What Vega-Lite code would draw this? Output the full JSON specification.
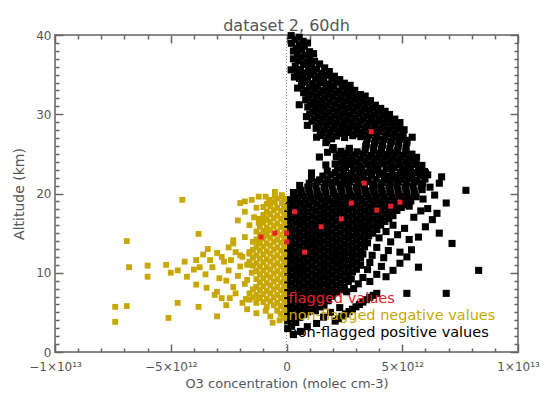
{
"$schema":"https://vega.github.io/schema/vega-lite/v6.json",
"width":463,"height":317,
"autosize":{"type":"none"},
"padding":{"left":55,"top":35,"right":27,"bottom":42},
"background":"white",
"title":{"text":"dataset 2, 60dh","font":"DejaVu Sans","fontSize":16,"fontWeight":"normal","color":"#555","offset":-5,"anchor":"middle"},
"config":{"view":{"stroke":"#888","strokeWidth":2},
"axis":{"domain":false,"grid":false,"labelFont":"DejaVu Sans","labelFontSize":12,"labelColor":"#555","titleFont":"DejaVu Sans","titleFontSize":13,"titleFontWeight":"normal","titleColor":"#555","tickColor":"#666","tickWidth":1.5,"labelOverlap":false,"labelFlush":false}},
"data":{"values":[{}]},
"datasets":{
"pos":[
{"o3":0.2e12,"alt":39.92},{"o3":0.55e12,"alt":39.72},{"o3":0.37e12,"alt":39.4},{"o3":0.72e12,"alt":39.21},{"o3":0.21e12,"alt":38.95},{"o3":0.56e12,"alt":38.76},{"o3":0.91e12,"alt":39.0},{"o3":0.42e12,"alt":38.36},{"o3":0.77e12,"alt":38.54},{"o3":0.3e12,"alt":37.97},{"o3":0.65e12,"alt":38.15},{"o3":1.0e12,"alt":37.89},{"o3":0.47e12,"alt":37.57},{"o3":0.82e12,"alt":37.49},{"o3":1.17e12,"alt":37.65},{"o3":0.3e12,"alt":36.99},{"o3":0.65e12,"alt":37.22},{"o3":1.0e12,"alt":37.04},{"o3":0.51e12,"alt":36.74},{"o3":0.86e12,"alt":36.57},{"o3":1.21e12,"alt":36.7},{"o3":0.38e12,"alt":36.06},{"o3":0.73e12,"alt":36.29},{"o3":1.08e12,"alt":36.17},{"o3":1.43e12,"alt":36.35},{"o3":0.6e12,"alt":35.64},{"o3":0.95e12,"alt":35.77},{"o3":1.3e12,"alt":35.69},{"o3":1.65e12,"alt":35.85},{"o3":0.47e12,"alt":35.42},{"o3":0.82e12,"alt":35.22},{"o3":1.17e12,"alt":35.35},{"o3":1.52e12,"alt":35.16},{"o3":1.85e12,"alt":35.39},{"o3":0.69e12,"alt":34.82},{"o3":1.04e12,"alt":34.97},{"o3":1.39e12,"alt":34.74},{"o3":1.74e12,"alt":34.92},{"o3":2.07e12,"alt":34.8},{"o3":0.56e12,"alt":34.52},{"o3":0.91e12,"alt":34.32},{"o3":1.26e12,"alt":34.45},{"o3":1.61e12,"alt":34.26},{"o3":1.96e12,"alt":34.49},{"o3":2.3e12,"alt":34.37},{"o3":0.77e12,"alt":34.05},{"o3":1.12e12,"alt":33.86},{"o3":1.47e12,"alt":34.0},{"o3":1.82e12,"alt":33.81},{"o3":2.17e12,"alt":34.04},{"o3":2.5e12,"alt":33.92},{"o3":0.65e12,"alt":33.62},{"o3":1.0e12,"alt":33.42},{"o3":1.35e12,"alt":33.55},{"o3":1.7e12,"alt":33.36},{"o3":2.05e12,"alt":33.59},{"o3":2.4e12,"alt":33.47},{"o3":2.75e12,"alt":33.65},{"o3":0.87e12,"alt":33.0},{"o3":1.22e12,"alt":33.17},{"o3":1.57e12,"alt":32.97},{"o3":1.92e12,"alt":33.1},{"o3":2.27e12,"alt":32.91},{"o3":2.62e12,"alt":33.14},{"o3":2.95e12,"alt":33.02},{"o3":0.74e12,"alt":32.72},{"o3":1.09e12,"alt":32.52},{"o3":1.44e12,"alt":32.65},{"o3":1.79e12,"alt":32.46},{"o3":2.14e12,"alt":32.69},{"o3":2.49e12,"alt":32.57},{"o3":2.84e12,"alt":32.75},{"o3":3.19e12,"alt":32.49},{"o3":0.95e12,"alt":32.1},{"o3":1.3e12,"alt":32.27},{"o3":1.65e12,"alt":32.07},{"o3":2.0e12,"alt":32.2},{"o3":2.35e12,"alt":32.01},{"o3":2.7e12,"alt":32.24},{"o3":3.05e12,"alt":32.12},{"o3":3.4e12,"alt":32.3},{"o3":0.83e12,"alt":31.82},{"o3":1.18e12,"alt":31.62},{"o3":1.53e12,"alt":31.75},{"o3":1.88e12,"alt":31.56},{"o3":2.23e12,"alt":31.79},{"o3":2.58e12,"alt":31.67},{"o3":2.93e12,"alt":31.85},{"o3":3.28e12,"alt":31.59},{"o3":3.63e12,"alt":31.72},{"o3":1.04e12,"alt":31.2},{"o3":1.39e12,"alt":31.37},{"o3":1.74e12,"alt":31.17},{"o3":2.09e12,"alt":31.3},{"o3":2.44e12,"alt":31.11},{"o3":2.79e12,"alt":31.34},{"o3":3.14e12,"alt":31.22},{"o3":3.49e12,"alt":31.4},{"o3":3.84e12,"alt":31.14},{"o3":0.92e12,"alt":30.92},{"o3":1.27e12,"alt":30.72},{"o3":1.62e12,"alt":30.85},{"o3":1.97e12,"alt":30.66},{"o3":2.32e12,"alt":30.89},{"o3":2.67e12,"alt":30.77},{"o3":3.02e12,"alt":30.95},{"o3":3.37e12,"alt":30.69},{"o3":3.72e12,"alt":30.82},{"o3":4.07e12,"alt":30.74},{"o3":1.13e12,"alt":30.3},{"o3":1.48e12,"alt":30.47},{"o3":1.83e12,"alt":30.27},{"o3":2.18e12,"alt":30.4},{"o3":2.53e12,"alt":30.21},{"o3":2.88e12,"alt":30.44},{"o3":3.23e12,"alt":30.32},{"o3":3.58e12,"alt":30.5},{"o3":3.93e12,"alt":30.24},{"o3":4.26e12,"alt":30.37},{"o3":1.0e12,"alt":30.02},{"o3":1.35e12,"alt":29.82},{"o3":1.7e12,"alt":29.95},{"o3":2.05e12,"alt":29.76},{"o3":2.4e12,"alt":29.99},{"o3":2.75e12,"alt":29.87},{"o3":3.1e12,"alt":30.05},{"o3":3.45e12,"alt":29.79},{"o3":3.8e12,"alt":29.92},{"o3":4.15e12,"alt":29.84},{"o3":4.45e12,"alt":29.97},{"o3":1.22e12,"alt":29.4},{"o3":1.57e12,"alt":29.57},{"o3":1.92e12,"alt":29.37},{"o3":2.27e12,"alt":29.5},{"o3":2.62e12,"alt":29.31},{"o3":2.97e12,"alt":29.54},{"o3":3.32e12,"alt":29.42},{"o3":3.67e12,"alt":29.6},{"o3":4.02e12,"alt":29.34},{"o3":4.37e12,"alt":29.47},{"o3":4.68e12,"alt":29.39},{"o3":1.1e12,"alt":29.12},{"o3":1.45e12,"alt":28.92},{"o3":1.8e12,"alt":29.05},{"o3":2.15e12,"alt":28.86},{"o3":2.5e12,"alt":29.09},{"o3":2.85e12,"alt":28.97},{"o3":3.2e12,"alt":29.15},{"o3":3.55e12,"alt":28.89},{"o3":3.9e12,"alt":29.02},{"o3":4.25e12,"alt":28.94},{"o3":4.6e12,"alt":29.07},{"o3":4.9e12,"alt":28.95},{"o3":1.37e12,"alt":28.5},{"o3":1.72e12,"alt":28.67},{"o3":2.07e12,"alt":28.47},{"o3":2.42e12,"alt":28.6},{"o3":2.77e12,"alt":28.41},{"o3":3.12e12,"alt":28.64},{"o3":3.47e12,"alt":28.52},{"o3":3.82e12,"alt":28.7},{"o3":4.17e12,"alt":28.44},{"o3":4.52e12,"alt":28.57},{"o3":4.87e12,"alt":28.49},{"o3":1.28e12,"alt":28.22},{"o3":1.63e12,"alt":28.02},{"o3":1.98e12,"alt":28.15},{"o3":2.33e12,"alt":27.96},{"o3":2.68e12,"alt":28.19},{"o3":3.03e12,"alt":28.07},{"o3":3.38e12,"alt":28.25},{"o3":3.73e12,"alt":27.99},{"o3":4.08e12,"alt":28.12},{"o3":4.43e12,"alt":28.04},{"o3":4.78e12,"alt":28.17},{"o3":5.08e12,"alt":28.05},{"o3":1.54e12,"alt":27.6},{"o3":1.89e12,"alt":27.77},{"o3":2.24e12,"alt":27.57},{"o3":2.59e12,"alt":27.7},{"o3":2.94e12,"alt":27.51},{"o3":3.29e12,"alt":27.74},{"o3":3.64e12,"alt":27.62},{"o3":3.99e12,"alt":27.8},{"o3":4.34e12,"alt":27.54},{"o3":4.69e12,"alt":27.67},{"o3":5.04e12,"alt":27.59},{"o3":1.46e12,"alt":27.32},{"o3":1.81e12,"alt":27.12},{"o3":2.16e12,"alt":27.25},{"o3":2.51e12,"alt":27.06},{"o3":2.86e12,"alt":27.29},{"o3":3.21e12,"alt":27.17},{"o3":3.56e12,"alt":27.35},{"o3":3.91e12,"alt":27.09},{"o3":4.26e12,"alt":27.22},{"o3":4.61e12,"alt":27.14},{"o3":4.96e12,"alt":27.27},{"o3":1.74e12,"alt":26.7},{"o3":1.95e12,"alt":26.9},{"o3":3.49e12,"alt":26.87},{"o3":3.84e12,"alt":26.67},{"o3":4.19e12,"alt":26.8},{"o3":4.54e12,"alt":26.61},{"o3":4.89e12,"alt":26.84},{"o3":5.2e12,"alt":26.72},{"o3":1.7e12,"alt":26.42},{"o3":3.45e12,"alt":26.22},{"o3":3.8e12,"alt":26.35},{"o3":4.15e12,"alt":26.16},{"o3":4.5e12,"alt":26.39},{"o3":4.85e12,"alt":26.27},{"o3":5.2e12,"alt":26.45},{"o3":2.02e12,"alt":25.8},{"o3":2.72e12,"alt":25.7},{"o3":3.42e12,"alt":25.97},{"o3":3.77e12,"alt":25.77},{"o3":4.12e12,"alt":25.9},{"o3":4.47e12,"alt":25.71},{"o3":4.82e12,"alt":25.94},{"o3":5.17e12,"alt":25.82},{"o3":2.0e12,"alt":25.52},{"o3":2.35e12,"alt":25.32},{"o3":2.7e12,"alt":25.45},{"o3":3.05e12,"alt":25.26},{"o3":3.4e12,"alt":25.49},{"o3":3.75e12,"alt":25.37},{"o3":4.1e12,"alt":25.55},{"o3":4.45e12,"alt":25.29},{"o3":4.8e12,"alt":25.42},{"o3":5.15e12,"alt":25.34},{"o3":2.27e12,"alt":24.9},{"o3":2.62e12,"alt":25.07},{"o3":2.97e12,"alt":24.87},{"o3":3.32e12,"alt":25.0},{"o3":3.67e12,"alt":24.81},{"o3":4.02e12,"alt":25.04},{"o3":4.37e12,"alt":24.92},{"o3":4.72e12,"alt":25.1},{"o3":5.07e12,"alt":24.84},{"o3":5.42e12,"alt":24.97},{"o3":2.15e12,"alt":24.62},{"o3":2.5e12,"alt":24.42},{"o3":2.85e12,"alt":24.55},{"o3":3.2e12,"alt":24.36},{"o3":3.55e12,"alt":24.59},{"o3":3.9e12,"alt":24.47},{"o3":4.25e12,"alt":24.65},{"o3":4.6e12,"alt":24.39},{"o3":4.95e12,"alt":24.52},{"o3":5.3e12,"alt":24.44},{"o3":5.62e12,"alt":24.57},{"o3":2.37e12,"alt":24.0},{"o3":2.72e12,"alt":24.17},{"o3":3.07e12,"alt":23.97},{"o3":3.42e12,"alt":24.1},{"o3":3.77e12,"alt":23.91},{"o3":4.12e12,"alt":24.14},{"o3":4.47e12,"alt":24.02},{"o3":4.82e12,"alt":24.2},{"o3":5.17e12,"alt":23.94},{"o3":5.52e12,"alt":24.07},{"o3":2.1e12,"alt":23.72},{"o3":2.45e12,"alt":23.52},{"o3":2.8e12,"alt":23.65},{"o3":3.15e12,"alt":23.46},{"o3":3.5e12,"alt":23.69},{"o3":3.85e12,"alt":23.57},{"o3":4.2e12,"alt":23.75},{"o3":4.55e12,"alt":23.49},{"o3":4.9e12,"alt":23.62},{"o3":5.25e12,"alt":23.54},{"o3":5.6e12,"alt":23.67},{"o3":5.85e12,"alt":23.55},{"o3":2.2e12,"alt":23.1},{"o3":2.55e12,"alt":23.27},{"o3":2.9e12,"alt":23.07},{"o3":3.25e12,"alt":23.2},{"o3":3.6e12,"alt":23.01},{"o3":3.95e12,"alt":23.24},{"o3":4.3e12,"alt":23.12},{"o3":4.65e12,"alt":23.3},{"o3":5.0e12,"alt":23.04},{"o3":5.35e12,"alt":23.17},{"o3":5.7e12,"alt":23.09},{"o3":1.76e12,"alt":22.82},{"o3":2.11e12,"alt":22.62},{"o3":2.46e12,"alt":22.75},{"o3":2.81e12,"alt":22.56},{"o3":3.16e12,"alt":22.79},{"o3":3.51e12,"alt":22.67},{"o3":3.86e12,"alt":22.85},{"o3":4.21e12,"alt":22.59},{"o3":4.56e12,"alt":22.72},{"o3":4.91e12,"alt":22.64},{"o3":5.26e12,"alt":22.77},{"o3":5.61e12,"alt":22.65},{"o3":5.96e12,"alt":22.78},{"o3":1.57e12,"alt":22.2},{"o3":1.92e12,"alt":22.37},{"o3":2.27e12,"alt":22.17},{"o3":2.62e12,"alt":22.3},{"o3":2.97e12,"alt":22.11},{"o3":3.32e12,"alt":22.34},{"o3":3.67e12,"alt":22.22},{"o3":4.02e12,"alt":22.4},{"o3":4.37e12,"alt":22.14},{"o3":4.72e12,"alt":22.27},{"o3":5.07e12,"alt":22.19},{"o3":5.42e12,"alt":22.32},{"o3":5.77e12,"alt":22.24},{"o3":6.1e12,"alt":22.36},{"o3":1.08e12,"alt":21.92},{"o3":1.43e12,"alt":21.72},{"o3":1.78e12,"alt":21.85},{"o3":2.13e12,"alt":21.66},{"o3":2.48e12,"alt":21.89},{"o3":2.83e12,"alt":21.77},{"o3":3.18e12,"alt":21.95},{"o3":3.53e12,"alt":21.69},{"o3":3.88e12,"alt":21.82},{"o3":4.23e12,"alt":21.74},{"o3":4.58e12,"alt":21.87},{"o3":4.93e12,"alt":21.75},{"o3":5.28e12,"alt":21.88},{"o3":5.63e12,"alt":21.7},{"o3":5.98e12,"alt":21.83},{"o3":0.98e12,"alt":21.3},{"o3":1.33e12,"alt":21.47},{"o3":1.68e12,"alt":21.27},{"o3":2.03e12,"alt":21.4},{"o3":2.38e12,"alt":21.21},{"o3":2.73e12,"alt":21.44},{"o3":3.08e12,"alt":21.32},{"o3":3.43e12,"alt":21.5},{"o3":3.78e12,"alt":21.24},{"o3":4.13e12,"alt":21.37},{"o3":4.48e12,"alt":21.29},{"o3":4.83e12,"alt":21.42},{"o3":5.18e12,"alt":21.34},{"o3":5.53e12,"alt":21.46},{"o3":5.88e12,"alt":21.28},{"o3":0.57e12,"alt":21.02},{"o3":0.92e12,"alt":20.82},{"o3":1.27e12,"alt":20.95},{"o3":1.62e12,"alt":20.76},{"o3":1.97e12,"alt":20.99},{"o3":2.32e12,"alt":20.87},{"o3":2.67e12,"alt":21.05},{"o3":3.02e12,"alt":20.79},{"o3":3.37e12,"alt":20.92},{"o3":3.72e12,"alt":20.84},{"o3":4.07e12,"alt":20.97},{"o3":4.42e12,"alt":20.85},{"o3":4.77e12,"alt":20.98},{"o3":5.12e12,"alt":20.8},{"o3":5.47e12,"alt":20.93},{"o3":5.82e12,"alt":20.86},{"o3":0.61e12,"alt":20.4},{"o3":0.96e12,"alt":20.57},{"o3":1.31e12,"alt":20.37},{"o3":1.66e12,"alt":20.5},{"o3":2.01e12,"alt":20.31},{"o3":2.36e12,"alt":20.54},{"o3":2.71e12,"alt":20.42},{"o3":3.06e12,"alt":20.6},{"o3":3.41e12,"alt":20.34},{"o3":3.76e12,"alt":20.47},{"o3":4.11e12,"alt":20.39},{"o3":4.46e12,"alt":20.52},{"o3":4.81e12,"alt":20.44},{"o3":5.16e12,"alt":20.56},{"o3":5.51e12,"alt":20.38},{"o3":5.86e12,"alt":20.49},{"o3":0.3e12,"alt":20.12},{"o3":0.65e12,"alt":19.92},{"o3":1.0e12,"alt":20.05},{"o3":1.35e12,"alt":19.86},{"o3":1.7e12,"alt":20.09},{"o3":2.05e12,"alt":19.97},{"o3":2.4e12,"alt":20.15},{"o3":2.75e12,"alt":19.89},{"o3":3.1e12,"alt":20.02},{"o3":3.45e12,"alt":19.94},{"o3":3.8e12,"alt":20.07},{"o3":4.15e12,"alt":19.95},{"o3":4.5e12,"alt":20.08},{"o3":4.85e12,"alt":19.9},{"o3":5.2e12,"alt":20.03},{"o3":5.55e12,"alt":19.96},{"o3":0.37e12,"alt":19.5},{"o3":0.72e12,"alt":19.67},{"o3":1.07e12,"alt":19.47},{"o3":1.42e12,"alt":19.6},{"o3":1.77e12,"alt":19.41},{"o3":2.12e12,"alt":19.64},{"o3":2.47e12,"alt":19.52},{"o3":2.82e12,"alt":19.7},{"o3":3.17e12,"alt":19.44},{"o3":3.52e12,"alt":19.57},{"o3":3.87e12,"alt":19.49},{"o3":4.22e12,"alt":19.62},{"o3":4.57e12,"alt":19.54},{"o3":4.92e12,"alt":19.66},{"o3":5.27e12,"alt":19.48},{"o3":5.6e12,"alt":19.59},{"o3":0.12e12,"alt":19.22},{"o3":0.47e12,"alt":19.02},{"o3":0.82e12,"alt":19.15},{"o3":1.17e12,"alt":18.96},{"o3":1.52e12,"alt":19.19},{"o3":1.87e12,"alt":19.07},{"o3":2.22e12,"alt":19.25},{"o3":2.57e12,"alt":18.99},{"o3":2.92e12,"alt":19.12},{"o3":3.27e12,"alt":19.04},{"o3":3.62e12,"alt":19.17},{"o3":3.97e12,"alt":19.05},{"o3":4.32e12,"alt":19.18},{"o3":4.67e12,"alt":19.0},{"o3":5.02e12,"alt":19.13},{"o3":5.37e12,"alt":19.06},{"o3":0.25e12,"alt":18.6},{"o3":0.6e12,"alt":18.77},{"o3":0.95e12,"alt":18.57},{"o3":1.3e12,"alt":18.7},{"o3":1.65e12,"alt":18.51},{"o3":2.0e12,"alt":18.74},{"o3":2.35e12,"alt":18.62},{"o3":2.7e12,"alt":18.8},{"o3":3.05e12,"alt":18.54},{"o3":3.4e12,"alt":18.67},{"o3":3.75e12,"alt":18.59},{"o3":4.1e12,"alt":18.72},{"o3":4.45e12,"alt":18.64},{"o3":4.8e12,"alt":18.76},{"o3":5.15e12,"alt":18.58},{"o3":0.06e12,"alt":18.32},{"o3":0.41e12,"alt":18.12},{"o3":0.76e12,"alt":18.25},{"o3":1.11e12,"alt":18.06},{"o3":1.46e12,"alt":18.29},{"o3":1.81e12,"alt":18.17},{"o3":2.16e12,"alt":18.35},{"o3":2.51e12,"alt":18.09},{"o3":2.86e12,"alt":18.22},{"o3":3.21e12,"alt":18.14},{"o3":3.56e12,"alt":18.27},{"o3":3.91e12,"alt":18.15},{"o3":4.26e12,"alt":18.28},{"o3":4.61e12,"alt":18.1},{"o3":4.96e12,"alt":18.23},{"o3":0.22e12,"alt":17.7},{"o3":0.57e12,"alt":17.87},{"o3":0.92e12,"alt":17.67},{"o3":1.27e12,"alt":17.8},{"o3":1.62e12,"alt":17.61},{"o3":1.97e12,"alt":17.84},{"o3":2.32e12,"alt":17.72},{"o3":2.67e12,"alt":17.9},{"o3":3.02e12,"alt":17.64},{"o3":3.37e12,"alt":17.77},{"o3":3.72e12,"alt":17.69},{"o3":4.07e12,"alt":17.82},{"o3":4.42e12,"alt":17.74},{"o3":4.77e12,"alt":17.86},{"o3":0.05e12,"alt":17.42},{"o3":0.4e12,"alt":17.22},{"o3":0.75e12,"alt":17.35},{"o3":1.1e12,"alt":17.16},{"o3":1.45e12,"alt":17.39},{"o3":1.8e12,"alt":17.27},{"o3":2.15e12,"alt":17.45},{"o3":2.5e12,"alt":17.19},{"o3":2.85e12,"alt":17.32},{"o3":3.2e12,"alt":17.24},{"o3":3.55e12,"alt":17.37},{"o3":3.9e12,"alt":17.25},{"o3":4.25e12,"alt":17.38},{"o3":4.6e12,"alt":17.2},{"o3":0.22e12,"alt":16.8},{"o3":0.57e12,"alt":16.97},{"o3":0.92e12,"alt":16.77},{"o3":1.27e12,"alt":16.9},{"o3":1.62e12,"alt":16.71},{"o3":1.97e12,"alt":16.94},{"o3":2.32e12,"alt":16.82},{"o3":2.67e12,"alt":17.0},{"o3":3.02e12,"alt":16.74},{"o3":3.37e12,"alt":16.87},{"o3":3.72e12,"alt":16.79},{"o3":4.07e12,"alt":16.92},{"o3":4.42e12,"alt":16.84},{"o3":0.05e12,"alt":16.52},{"o3":0.4e12,"alt":16.32},{"o3":0.75e12,"alt":16.45},{"o3":1.1e12,"alt":16.26},{"o3":1.45e12,"alt":16.49},{"o3":1.8e12,"alt":16.37},{"o3":2.15e12,"alt":16.55},{"o3":2.5e12,"alt":16.29},{"o3":2.85e12,"alt":16.42},{"o3":3.2e12,"alt":16.34},{"o3":3.55e12,"alt":16.47},{"o3":3.9e12,"alt":16.35},{"o3":4.25e12,"alt":16.48},{"o3":0.22e12,"alt":15.9},{"o3":0.57e12,"alt":16.07},{"o3":0.92e12,"alt":15.87},{"o3":1.27e12,"alt":16.0},{"o3":1.62e12,"alt":15.81},{"o3":1.97e12,"alt":16.04},{"o3":2.32e12,"alt":15.92},{"o3":2.67e12,"alt":16.1},{"o3":3.02e12,"alt":15.84},{"o3":3.37e12,"alt":15.97},{"o3":3.72e12,"alt":15.89},{"o3":4.07e12,"alt":16.02},{"o3":0.05e12,"alt":15.62},{"o3":0.4e12,"alt":15.42},{"o3":0.75e12,"alt":15.55},{"o3":1.1e12,"alt":15.36},{"o3":1.45e12,"alt":15.59},{"o3":1.8e12,"alt":15.47},{"o3":2.15e12,"alt":15.65},{"o3":2.5e12,"alt":15.39},{"o3":2.85e12,"alt":15.52},{"o3":3.2e12,"alt":15.44},{"o3":3.55e12,"alt":15.57},{"o3":3.9e12,"alt":15.45},{"o3":0.22e12,"alt":15.0},{"o3":0.57e12,"alt":15.17},{"o3":0.92e12,"alt":14.97},{"o3":1.27e12,"alt":15.1},{"o3":1.62e12,"alt":14.91},{"o3":1.97e12,"alt":15.14},{"o3":2.32e12,"alt":15.02},{"o3":2.67e12,"alt":15.2},{"o3":3.02e12,"alt":14.94},{"o3":3.37e12,"alt":15.07},{"o3":3.72e12,"alt":14.99},{"o3":0.05e12,"alt":14.72},{"o3":0.4e12,"alt":14.52},{"o3":0.75e12,"alt":14.65},{"o3":1.1e12,"alt":14.46},{"o3":1.45e12,"alt":14.69},{"o3":1.8e12,"alt":14.57},{"o3":2.15e12,"alt":14.75},{"o3":2.5e12,"alt":14.49},{"o3":2.85e12,"alt":14.62},{"o3":3.2e12,"alt":14.54},{"o3":3.55e12,"alt":14.67},{"o3":0.22e12,"alt":14.1},{"o3":0.57e12,"alt":14.27},{"o3":0.92e12,"alt":14.07},{"o3":1.27e12,"alt":14.2},{"o3":1.62e12,"alt":14.01},{"o3":1.97e12,"alt":14.24},{"o3":2.32e12,"alt":14.12},{"o3":2.67e12,"alt":14.3},{"o3":3.02e12,"alt":14.04},{"o3":3.37e12,"alt":14.17},{"o3":0.05e12,"alt":13.82},{"o3":0.4e12,"alt":13.62},{"o3":0.75e12,"alt":13.75},{"o3":1.1e12,"alt":13.56},{"o3":1.45e12,"alt":13.79},{"o3":1.8e12,"alt":13.67},{"o3":2.15e12,"alt":13.85},{"o3":2.5e12,"alt":13.59},{"o3":2.85e12,"alt":13.72},{"o3":3.2e12,"alt":13.64},{"o3":3.5e12,"alt":13.77},{"o3":0.22e12,"alt":13.2},{"o3":0.57e12,"alt":13.37},{"o3":0.92e12,"alt":13.17},{"o3":1.27e12,"alt":13.3},{"o3":1.62e12,"alt":13.11},{"o3":1.97e12,"alt":13.34},{"o3":2.32e12,"alt":13.22},{"o3":2.67e12,"alt":13.4},{"o3":3.02e12,"alt":13.14},{"o3":3.37e12,"alt":13.27},{"o3":0.05e12,"alt":12.92},{"o3":0.4e12,"alt":12.72},{"o3":0.75e12,"alt":12.85},{"o3":1.1e12,"alt":12.66},{"o3":1.45e12,"alt":12.89},{"o3":1.8e12,"alt":12.77},{"o3":2.15e12,"alt":12.95},{"o3":2.5e12,"alt":12.69},{"o3":2.85e12,"alt":12.82},{"o3":3.2e12,"alt":12.74},{"o3":0.22e12,"alt":12.3},{"o3":0.57e12,"alt":12.47},{"o3":0.92e12,"alt":12.27},{"o3":1.27e12,"alt":12.4},{"o3":1.62e12,"alt":12.21},{"o3":1.97e12,"alt":12.44},{"o3":2.32e12,"alt":12.32},{"o3":2.67e12,"alt":12.5},{"o3":3.02e12,"alt":12.24},{"o3":3.3e12,"alt":12.37},{"o3":0.05e12,"alt":12.02},{"o3":0.4e12,"alt":11.82},{"o3":0.75e12,"alt":11.95},{"o3":1.1e12,"alt":11.76},{"o3":1.45e12,"alt":11.99},{"o3":1.8e12,"alt":11.87},{"o3":2.15e12,"alt":12.05},{"o3":2.5e12,"alt":11.79},{"o3":2.85e12,"alt":11.92},{"o3":3.2e12,"alt":11.84},{"o3":0.22e12,"alt":11.4},{"o3":0.57e12,"alt":11.57},{"o3":0.92e12,"alt":11.37},{"o3":1.27e12,"alt":11.5},{"o3":1.62e12,"alt":11.31},{"o3":1.97e12,"alt":11.54},{"o3":2.32e12,"alt":11.42},{"o3":2.67e12,"alt":11.6},{"o3":3.02e12,"alt":11.34},{"o3":0.05e12,"alt":11.12},{"o3":0.4e12,"alt":10.92},{"o3":0.75e12,"alt":11.05},{"o3":1.1e12,"alt":10.86},{"o3":1.45e12,"alt":11.09},{"o3":1.8e12,"alt":10.97},{"o3":2.15e12,"alt":11.15},{"o3":2.5e12,"alt":10.89},{"o3":2.85e12,"alt":11.02},{"o3":3.2e12,"alt":10.94},{"o3":0.22e12,"alt":10.5},{"o3":0.57e12,"alt":10.67},{"o3":0.92e12,"alt":10.47},{"o3":1.27e12,"alt":10.6},{"o3":1.62e12,"alt":10.41},{"o3":1.97e12,"alt":10.64},{"o3":2.32e12,"alt":10.52},{"o3":2.67e12,"alt":10.7},{"o3":3.02e12,"alt":10.44},{"o3":0.05e12,"alt":10.22},{"o3":0.4e12,"alt":10.02},{"o3":0.75e12,"alt":10.15},{"o3":1.1e12,"alt":9.96},{"o3":1.45e12,"alt":10.19},{"o3":1.8e12,"alt":10.07},{"o3":2.15e12,"alt":10.25},{"o3":2.5e12,"alt":9.99},{"o3":2.85e12,"alt":10.12},{"o3":0.22e12,"alt":9.6},{"o3":0.57e12,"alt":9.77},{"o3":0.92e12,"alt":9.57},{"o3":1.27e12,"alt":9.7},{"o3":1.62e12,"alt":9.51},{"o3":1.97e12,"alt":9.74},{"o3":2.32e12,"alt":9.62},{"o3":2.67e12,"alt":9.8},{"o3":0.05e12,"alt":9.32},{"o3":0.4e12,"alt":9.12},{"o3":0.75e12,"alt":9.25},{"o3":1.1e12,"alt":9.06},{"o3":1.45e12,"alt":9.29},{"o3":1.8e12,"alt":9.17},{"o3":2.15e12,"alt":9.35},{"o3":2.5e12,"alt":9.09},{"o3":2.8e12,"alt":9.22},{"o3":0.22e12,"alt":8.7},{"o3":0.57e12,"alt":8.87},{"o3":0.92e12,"alt":8.67},{"o3":1.27e12,"alt":8.8},{"o3":1.62e12,"alt":8.61},{"o3":1.97e12,"alt":8.84},{"o3":2.32e12,"alt":8.72},{"o3":2.67e12,"alt":8.9},{"o3":0.05e12,"alt":8.42},{"o3":0.4e12,"alt":8.22},{"o3":0.75e12,"alt":8.35},{"o3":1.1e12,"alt":8.16},{"o3":1.45e12,"alt":8.39},{"o3":1.8e12,"alt":8.27},{"o3":2.15e12,"alt":8.45},{"o3":2.5e12,"alt":8.19},{"o3":0.22e12,"alt":7.8},{"o3":0.57e12,"alt":7.97},{"o3":0.92e12,"alt":7.77},{"o3":1.27e12,"alt":7.9},{"o3":1.62e12,"alt":7.71},{"o3":1.97e12,"alt":7.94},{"o3":2.32e12,"alt":7.82},{"o3":0.05e12,"alt":7.52},{"o3":0.4e12,"alt":7.32},{"o3":0.75e12,"alt":7.45},{"o3":1.1e12,"alt":7.26},{"o3":1.45e12,"alt":7.49},{"o3":1.8e12,"alt":7.37},{"o3":2.15e12,"alt":7.55},{"o3":0.22e12,"alt":6.9},{"o3":0.57e12,"alt":7.07},{"o3":0.92e12,"alt":6.87},{"o3":1.27e12,"alt":7.0},{"o3":1.62e12,"alt":6.81},{"o3":1.97e12,"alt":7.04},{"o3":0.05e12,"alt":6.62},{"o3":0.4e12,"alt":6.42},{"o3":0.75e12,"alt":6.55},{"o3":1.1e12,"alt":6.36},{"o3":1.45e12,"alt":6.59},{"o3":1.8e12,"alt":6.47},{"o3":0.22e12,"alt":6.0},{"o3":0.57e12,"alt":6.17},{"o3":0.92e12,"alt":5.97},{"o3":1.27e12,"alt":6.1},{"o3":1.62e12,"alt":5.91},{"o3":0.05e12,"alt":5.72},{"o3":0.4e12,"alt":5.52},{"o3":0.75e12,"alt":5.65},{"o3":1.1e12,"alt":5.46},{"o3":1.45e12,"alt":5.69},{"o3":0.22e12,"alt":5.1},{"o3":0.57e12,"alt":5.27},{"o3":0.92e12,"alt":5.07},{"o3":1.25e12,"alt":5.2},{"o3":0.05e12,"alt":4.82},{"o3":0.4e12,"alt":4.62},{"o3":0.75e12,"alt":4.75},{"o3":0.22e12,"alt":4.2},{"o3":0.57e12,"alt":4.37},{"o3":0.05e12,"alt":3.92},{"o3":0.4e12,"alt":3.72},{"o3":0.22e12,"alt":3.3},{"o3":0.05e12,"alt":2.95},
{"o3":0.34e12,"alt":34.7},{"o3":0.48e12,"alt":33.3},{"o3":0.86e12,"alt":29.7},{"o3":0.9e12,"alt":28.6},{"o3":1.3e12,"alt":27.1},{"o3":1.08e12,"alt":22.6},{"o3":1.7e12,"alt":23.6},{"o3":1.42e12,"alt":24.6},{"o3":1.77e12,"alt":25.2},{"o3":0.2e12,"alt":35.6},{"o3":0.55e12,"alt":31.2},{"o3":6.7e12,"alt":22.1},{"o3":5.43e12,"alt":27.1},{"o3":6.0e12,"alt":22.6},{"o3":5.8e12,"alt":23.3},{"o3":7.75e12,"alt":20.4},{"o3":6.9e12,"alt":18.8},{"o3":6.5e12,"alt":17.5},{"o3":7.15e12,"alt":13.7},{"o3":6.6e12,"alt":15.0},{"o3":6.0e12,"alt":15.8},{"o3":6.3e12,"alt":16.7},{"o3":5.7e12,"alt":14.5},{"o3":5.4e12,"alt":12.9},{"o3":5.2e12,"alt":12.0},{"o3":5.7e12,"alt":10.7},{"o3":4.9e12,"alt":11.2},{"o3":8.3e12,"alt":10.3},{"o3":4.6e12,"alt":10.3},{"o3":4.3e12,"alt":9.5},{"o3":4.0e12,"alt":16.2},{"o3":4.6e12,"alt":16.0},{"o3":5.1e12,"alt":15.6},{"o3":4.3e12,"alt":15.2},{"o3":4.8e12,"alt":14.8},{"o3":5.3e12,"alt":14.2},{"o3":4.0e12,"alt":14.4},{"o3":4.5e12,"alt":13.9},{"o3":3.9e12,"alt":13.2},{"o3":4.4e12,"alt":12.8},{"o3":4.9e12,"alt":12.6},{"o3":3.7e12,"alt":12.2},{"o3":4.2e12,"alt":11.9},{"o3":3.6e12,"alt":11.3},{"o3":4.1e12,"alt":10.8},{"o3":3.5e12,"alt":10.4},{"o3":3.9e12,"alt":9.8},{"o3":3.3e12,"alt":9.4},{"o3":3.6e12,"alt":8.9},{"o3":3.1e12,"alt":8.6},{"o3":5.5e12,"alt":17.0},{"o3":5.8e12,"alt":17.8},{"o3":5.3e12,"alt":18.4},{"o3":6.1e12,"alt":18.1},{"o3":5.9e12,"alt":19.3},{"o3":6.4e12,"alt":19.8},{"o3":6.2e12,"alt":20.8},{"o3":6.6e12,"alt":21.3},{"o3":3.9e12,"alt":7.4},{"o3":3.6e12,"alt":6.9},{"o3":3.3e12,"alt":6.3},{"o3":3.0e12,"alt":5.7},{"o3":2.7e12,"alt":5.1},{"o3":2.4e12,"alt":4.5},{"o3":2.1e12,"alt":3.9},{"o3":3.75e12,"alt":7.15},{"o3":3.45e12,"alt":6.6},{"o3":3.15e12,"alt":6.0},{"o3":2.85e12,"alt":5.4},{"o3":2.55e12,"alt":4.8},{"o3":2.25e12,"alt":4.2},{"o3":6.9e12,"alt":7.4},{"o3":5.2e12,"alt":7.4},{"o3":2.9e12,"alt":8.0},{"o3":2.6e12,"alt":7.6},{"o3":2.3e12,"alt":5.6},{"o3":1.9e12,"alt":5.0},{"o3":1.6e12,"alt":4.4},{"o3":1.3e12,"alt":3.6},{"o3":0.9e12,"alt":3.2},{"o3":0.6e12,"alt":2.6},{"o3":0.3e12,"alt":2.2}
],
"neg":[
{"o3":-0.2e12,"alt":19.8},{"o3":-0.5e12,"alt":19.7},{"o3":-0.1e12,"alt":19.3},{"o3":-0.4e12,"alt":19.4},{"o3":-0.75e12,"alt":19.2},{"o3":-0.2e12,"alt":18.8},{"o3":-0.5e12,"alt":18.9},{"o3":-0.85e12,"alt":18.7},{"o3":-0.1e12,"alt":18.3},{"o3":-0.4e12,"alt":18.2},{"o3":-0.7e12,"alt":18.4},{"o3":-1.0e12,"alt":18.3},{"o3":-0.25e12,"alt":17.8},{"o3":-0.55e12,"alt":17.9},{"o3":-0.85e12,"alt":17.7},{"o3":-0.1e12,"alt":17.3},{"o3":-0.4e12,"alt":17.2},{"o3":-0.7e12,"alt":17.4},{"o3":-1.0e12,"alt":17.3},{"o3":-0.25e12,"alt":16.8},{"o3":-0.55e12,"alt":16.9},{"o3":-0.85e12,"alt":16.7},{"o3":-1.15e12,"alt":16.8},{"o3":-0.1e12,"alt":16.3},{"o3":-0.4e12,"alt":16.2},{"o3":-0.7e12,"alt":16.4},{"o3":-1.0e12,"alt":16.3},{"o3":-0.25e12,"alt":15.8},{"o3":-0.55e12,"alt":15.9},{"o3":-0.85e12,"alt":15.7},{"o3":-1.15e12,"alt":15.8},{"o3":-0.1e12,"alt":15.3},{"o3":-0.4e12,"alt":15.2},{"o3":-0.7e12,"alt":15.4},{"o3":-1.0e12,"alt":15.3},{"o3":-1.3e12,"alt":15.2},{"o3":-0.25e12,"alt":14.8},{"o3":-0.55e12,"alt":14.9},{"o3":-0.85e12,"alt":14.7},{"o3":-1.15e12,"alt":14.8},{"o3":-0.1e12,"alt":14.3},{"o3":-0.4e12,"alt":14.2},{"o3":-0.7e12,"alt":14.4},{"o3":-1.0e12,"alt":14.3},{"o3":-1.3e12,"alt":14.2},{"o3":-0.25e12,"alt":13.8},{"o3":-0.55e12,"alt":13.9},{"o3":-0.85e12,"alt":13.7},{"o3":-1.15e12,"alt":13.8},{"o3":-1.45e12,"alt":13.9},{"o3":-0.1e12,"alt":13.3},{"o3":-0.4e12,"alt":13.2},{"o3":-0.7e12,"alt":13.4},{"o3":-1.0e12,"alt":13.3},{"o3":-1.3e12,"alt":13.2},{"o3":-0.25e12,"alt":12.8},{"o3":-0.55e12,"alt":12.9},{"o3":-0.85e12,"alt":12.7},{"o3":-1.15e12,"alt":12.8},{"o3":-1.45e12,"alt":12.9},{"o3":-0.1e12,"alt":12.3},{"o3":-0.4e12,"alt":12.2},{"o3":-0.7e12,"alt":12.4},{"o3":-1.0e12,"alt":12.3},{"o3":-1.3e12,"alt":12.2},{"o3":-1.6e12,"alt":12.4},{"o3":-0.25e12,"alt":11.8},{"o3":-0.55e12,"alt":11.9},{"o3":-0.85e12,"alt":11.7},{"o3":-1.15e12,"alt":11.8},{"o3":-1.45e12,"alt":11.9},{"o3":-0.1e12,"alt":11.3},{"o3":-0.4e12,"alt":11.2},{"o3":-0.7e12,"alt":11.4},{"o3":-1.0e12,"alt":11.3},{"o3":-1.3e12,"alt":11.2},{"o3":-1.6e12,"alt":11.4},{"o3":-0.25e12,"alt":10.8},{"o3":-0.55e12,"alt":10.9},{"o3":-0.85e12,"alt":10.7},{"o3":-1.15e12,"alt":10.8},{"o3":-1.45e12,"alt":10.9},{"o3":-0.1e12,"alt":10.3},{"o3":-0.4e12,"alt":10.2},{"o3":-0.7e12,"alt":10.4},{"o3":-1.0e12,"alt":10.3},{"o3":-1.3e12,"alt":10.2},{"o3":-0.25e12,"alt":9.8},{"o3":-0.55e12,"alt":9.9},{"o3":-0.85e12,"alt":9.7},{"o3":-1.15e12,"alt":9.8},{"o3":-0.1e12,"alt":9.3},{"o3":-0.4e12,"alt":9.2},{"o3":-0.7e12,"alt":9.4},{"o3":-1.0e12,"alt":9.3},{"o3":-1.3e12,"alt":9.2},{"o3":-0.25e12,"alt":8.8},{"o3":-0.55e12,"alt":8.9},{"o3":-0.85e12,"alt":8.7},{"o3":-1.15e12,"alt":8.8},{"o3":-0.1e12,"alt":8.3},{"o3":-0.4e12,"alt":8.2},{"o3":-0.7e12,"alt":8.4},{"o3":-1.0e12,"alt":8.3},{"o3":-1.3e12,"alt":8.2},{"o3":-0.25e12,"alt":7.8},{"o3":-0.55e12,"alt":7.9},{"o3":-0.85e12,"alt":7.7},{"o3":-1.15e12,"alt":7.8},{"o3":-1.45e12,"alt":7.9},{"o3":-0.1e12,"alt":7.3},{"o3":-0.4e12,"alt":7.2},{"o3":-0.7e12,"alt":7.4},{"o3":-1.0e12,"alt":7.3},{"o3":-1.3e12,"alt":7.2},{"o3":-1.6e12,"alt":7.4},{"o3":-0.25e12,"alt":6.8},{"o3":-0.55e12,"alt":6.9},{"o3":-0.85e12,"alt":6.7},{"o3":-1.15e12,"alt":6.8},{"o3":-1.45e12,"alt":6.9},{"o3":-1.75e12,"alt":6.7},{"o3":-0.1e12,"alt":6.3},{"o3":-0.4e12,"alt":6.2},{"o3":-0.7e12,"alt":6.4},{"o3":-1.0e12,"alt":6.3},{"o3":-1.3e12,"alt":6.2},{"o3":-0.25e12,"alt":5.8},{"o3":-0.55e12,"alt":5.9},{"o3":-0.85e12,"alt":5.7},{"o3":-0.1e12,"alt":5.3},{"o3":-0.4e12,"alt":5.2},{"o3":-0.25e12,"alt":4.8},{"o3":-0.1e12,"alt":4.3},
{"o3":-4.5e12,"alt":19.2},{"o3":-6.9e12,"alt":14.0},{"o3":-3.8e12,"alt":14.9},{"o3":-6.8e12,"alt":10.7},{"o3":-6.0e12,"alt":10.9},{"o3":-6.0e12,"alt":9.5},{"o3":-5.2e12,"alt":11.0},{"o3":-5.0e12,"alt":10.0},{"o3":-4.7e12,"alt":10.3},{"o3":-4.4e12,"alt":11.4},{"o3":-4.3e12,"alt":9.5},{"o3":-3.9e12,"alt":11.6},{"o3":-3.75e12,"alt":10.7},{"o3":-3.9e12,"alt":8.5},{"o3":-3.45e12,"alt":8.1},{"o3":-3.4e12,"alt":13.0},{"o3":-3.2e12,"alt":10.7},{"o3":-3.0e12,"alt":12.5},{"o3":-2.9e12,"alt":9.3},{"o3":-2.7e12,"alt":11.4},{"o3":-2.5e12,"alt":10.3},{"o3":-3.0e12,"alt":7.6},{"o3":-2.8e12,"alt":6.8},{"o3":-2.45e12,"alt":6.8},{"o3":-2.6e12,"alt":5.9},{"o3":-2.3e12,"alt":14.1},{"o3":-2.0e12,"alt":18.8},{"o3":-1.8e12,"alt":19.0},{"o3":-1.8e12,"alt":17.7},{"o3":-1.3e12,"alt":18.2},{"o3":-1.2e12,"alt":19.6},{"o3":-7.4e12,"alt":5.7},{"o3":-6.9e12,"alt":5.8},{"o3":-7.4e12,"alt":3.8},{"o3":-4.7e12,"alt":6.2},{"o3":-5.1e12,"alt":4.3},{"o3":-3.8e12,"alt":5.7},{"o3":-3.0e12,"alt":4.5},{"o3":-1.3e12,"alt":4.9},{"o3":-0.6e12,"alt":3.7},{"o3":-0.6e12,"alt":18.9},{"o3":-0.2e12,"alt":19.6},{"o3":-2.3e12,"alt":13.7},{"o3":-2.4e12,"alt":11.6},{"o3":-2.0e12,"alt":12.2},{"o3":-1.7e12,"alt":11.0},{"o3":-1.6e12,"alt":12.6},{"o3":-1.5e12,"alt":10.0},{"o3":-1.7e12,"alt":9.1},{"o3":-1.3e12,"alt":8.2},{"o3":-1.6e12,"alt":6.6},{"o3":-1.2e12,"alt":6.9},{"o3":-1.3e12,"alt":10.3},{"o3":-1.2e12,"alt":16.3},{"o3":-0.95e12,"alt":16.9},{"o3":-0.9e12,"alt":15.0},{"o3":-1.2e12,"alt":13.7},{"o3":-2.2e12,"alt":12.6},{"o3":-2.0e12,"alt":10.8},{"o3":-1.9e12,"alt":12.0},{"o3":-2.1e12,"alt":9.6},{"o3":-1.8e12,"alt":8.6},{"o3":-2.2e12,"alt":7.4},{"o3":-1.9e12,"alt":6.2},{"o3":-1.7e12,"alt":5.4},{"o3":-2.5e12,"alt":13.2},{"o3":-1.8e12,"alt":14.5},{"o3":-1.6e12,"alt":16.0},{"o3":-1.4e12,"alt":17.0},{"o3":-2.1e12,"alt":16.6},{"o3":-0.9e12,"alt":19.6},{"o3":-1.5e12,"alt":19.2},{"o3":-0.5e12,"alt":20.2},{"o3":-0.3e12,"alt":4.0},{"o3":-0.7e12,"alt":4.5},{"o3":-0.9e12,"alt":5.2},{"o3":-2.8e12,"alt":12.0},{"o3":-3.3e12,"alt":11.6},{"o3":-3.6e12,"alt":12.3},{"o3":-4.0e12,"alt":10.4},{"o3":-3.5e12,"alt":9.8},{"o3":-2.6e12,"alt":9.0},{"o3":-2.3e12,"alt":8.2},{"o3":-3.1e12,"alt":7.2}
],
"flag":[
{"o3":3.66e12,"alt":27.8},{"o3":3.36e12,"alt":21.3},{"o3":2.8e12,"alt":18.8},{"o3":3.9e12,"alt":17.9},{"o3":4.5e12,"alt":18.4},{"o3":4.9e12,"alt":18.9},{"o3":2.37e12,"alt":16.8},{"o3":1.5e12,"alt":15.8},{"o3":0.35e12,"alt":17.7},{"o3":0.0,"alt":15.0},{"o3":0.02e12,"alt":13.9},{"o3":0.78e12,"alt":12.6},{"o3":-1.1e12,"alt":14.5},{"o3":-0.5e12,"alt":15.0}
]},
"layer":[
{"mark":{"type":"rule","color":"#888","strokeDash":[1,2],"strokeWidth":1},
 "encoding":{"x":{"datum":0,"type":"quantitative","scale":{"domain":[-1e13,1e13],"nice":false,"zero":false},
  "axis":{"orient":"top","labels":false,"title":null,"values":[-1e13,-9e12,-8e12,-7e12,-6e12,-5e12,-4e12,-3e12,-2e12,-1e12,0,1e12,2e12,3e12,4e12,5e12,6e12,7e12,8e12,9e12,1e13],"tickSize":{"condition":{"test":"datum.value % 5e12 === 0","value":-8},"value":-4}}}}},
{"data":{"name":"pos"},"mark":{"type":"square","size":50,"opacity":1},
 "encoding":{
  "x":{"field":"o3","type":"quantitative","title":"O3 concentration (molec cm-3)","scale":{"domain":[-1e13,1e13],"nice":false,"zero":false},
   "axis":{"orient":"bottom","values":[-1e13,-9e12,-8e12,-7e12,-6e12,-5e12,-4e12,-3e12,-2e12,-1e12,0,1e12,2e12,3e12,4e12,5e12,6e12,7e12,8e12,9e12,1e13],
    "labelExpr":"datum.value === 0 ? '0' : datum.value === 5e12 ? '5×10¹²' : datum.value === -5e12 ? '−5×10¹²' : datum.value === 1e13 ? '1×10¹³' : datum.value === -1e13 ? '−1×10¹³' : ''",
    "tickSize":{"condition":{"test":"datum.value % 5e12 === 0","value":-8},"value":-4},"labelPadding":17,"titlePadding":1}},
  "y":{"field":"alt","type":"quantitative","title":"Altitude (km)","scale":{"domain":[0,40],"nice":false},
   "axis":{"orient":"left","values":[0,1,2,3,4,5,6,7,8,9,10,11,12,13,14,15,16,17,18,19,20,21,22,23,24,25,26,27,28,29,30,31,32,33,34,35,36,37,38,39,40],
    "labelExpr":"datum.value % 10 === 0 ? datum.label : ''",
    "tickSize":{"condition":{"test":"datum.value % 10 === 0","value":-8},"value":-4},"labelPadding":12,"titlePadding":9,"titleFontSize":14}},
  "color":{"datum":"non-flagged positive values","type":"nominal",
   "scale":{"domain":["flagged values","non-flagged negative values","non-flagged positive values"],"range":["#e8202a","#c8a800","#000000"]},
   "legend":{"orient":"none","legendX":219,"legendY":257,"title":null,"symbolSize":0,"symbolOpacity":0,"symbolStrokeWidth":0,"labelFontSize":14.5,"labelFont":"DejaVu Sans","labelLimit":400,"labelOffset":0,"rowPadding":2,"padding":0,
    "encode":{"labels":{"update":{"fill":{"scale":"color","field":"value"}}}}}}}},
{"data":{"name":"neg"},"mark":{"type":"square","size":34,"opacity":1},
 "encoding":{
  "x":{"field":"o3","type":"quantitative","axis":null},
  "y":{"field":"alt","type":"quantitative","axis":null},
  "color":{"datum":"non-flagged negative values","type":"nominal"}}},
{"data":{"name":"flag"},"mark":{"type":"square","size":25,"opacity":1},
 "encoding":{
  "x":{"field":"o3","type":"quantitative","axis":null},
  "y":{"field":"alt","type":"quantitative",
   "axis":{"orient":"right","labels":false,"title":null,"values":[0,1,2,3,4,5,6,7,8,9,10,11,12,13,14,15,16,17,18,19,20,21,22,23,24,25,26,27,28,29,30,31,32,33,34,35,36,37,38,39,40],"tickSize":{"condition":{"test":"datum.value % 10 === 0","value":-8},"value":-4}}},
  "color":{"datum":"flagged values","type":"nominal"}}}
],
"resolve":{"axis":{"x":"independent","y":"independent"}}
}
